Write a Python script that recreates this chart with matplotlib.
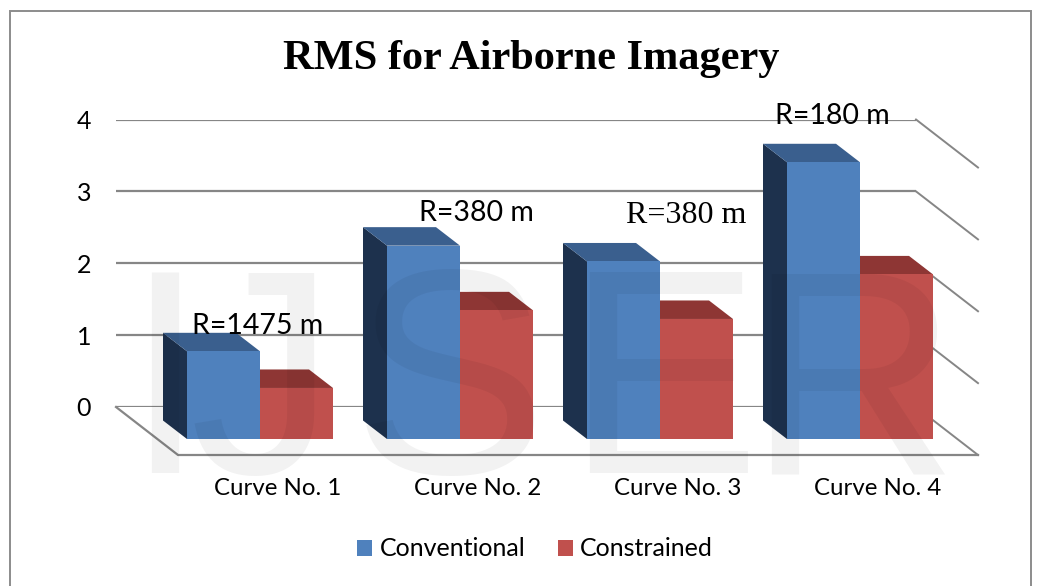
#!/usr/bin/env python
# coding: utf-8

import numpy as np
import matplotlib
matplotlib.use('Agg')
import matplotlib.pyplot as plt
from matplotlib.patches import Rectangle

# Data
curves = ['Curve No. 1', 'Curve No. 2', 'Curve No. 3', 'Curve No. 4']
conventional = [1.22, 2.69, 2.47, 3.85]
constrained = [0.71, 1.79, 1.67, 2.29]
y_ticks = [0, 1, 2, 3, 4]
radius_labels = ['R=1475 m', 'R=380 m', 'R=380 m', 'R=180 m']

W, H = 1044, 586
plt.rcParams['font.family'] = ['Lato', 'DejaVu Sans']

fig = plt.figure(figsize=(W / 100, H / 100), dpi=100)

# Axes box is the back wall of the fake 3D chart
left, right, top, bottom = 116, 916, 119.5, 407
ax = fig.add_axes([left / W, 1 - bottom / H, (right - left) / W, (bottom - top) / H])
ax.set_xlim(-0.72, 3.28)
ax.set_ylim(0, 4)
ax.patch.set_visible(False)
for s in ax.spines.values():
    s.set_visible(False)

px_x = 1 / 200  # data units per pixel
px_y = 4 / (bottom - top)

grid_col = '#868686'
floor_dx, floor_dy = 62 * px_x, -48 * px_y
bar_dx, bar_dy = 24 * px_x, 18.5 * px_y
bar_base = -32 * px_y
bar_w = 73 * px_x

# Chart frame
fig.add_artist(Rectangle((9.5 / W, -0.01), 1021 / W, 1 - 10.5 / H + 0.01, transform=fig.transFigure,
                         fill=False, edgecolor='#8c8c8c', linewidth=1.4))

# Walls and floor
xmin, xmax = ax.get_xlim()
ax.set_axisbelow(True)
ax.yaxis.grid(True, color=grid_col, linewidth=1.6)
for t in y_ticks:
    ax.plot([xmax, xmax + floor_dx], [t, t + floor_dy], color=grid_col, lw=1.4, clip_on=False, zorder=1)
ax.plot([xmin, xmin + floor_dx, xmax + floor_dx], [0, floor_dy, floor_dy],
        color=grid_col, lw=1.6, clip_on=False, zorder=1)


def draw_bars(xs, values, front, side, cap):
    for x, v in zip(xs, values):
        t = bar_base + v
        ax.fill([x, x - bar_dx, x - bar_dx, x], [bar_base, bar_base + bar_dy, t + bar_dy, t],
                color=side, lw=0, clip_on=False, zorder=3)
        ax.fill([x, x - bar_dx, x + bar_w - bar_dx, x + bar_w], [t, t + bar_dy, t + bar_dy, t],
                color=cap, lw=0, clip_on=False, zorder=3)
    return ax.bar(xs, values, width=bar_w, bottom=bar_base, align='edge', color=front,
                  clip_on=False, zorder=4)


pos = np.arange(len(curves))
# constrained first, its side is hidden by the blue bar
b2 = draw_bars(pos, constrained, '#C0504D', '#8E3634', '#8E3634')
b1 = draw_bars(pos - bar_w, conventional, '#4F81BD', '#1D314D', '#3A5F8E')

# Ticks
ax.set_yticks(y_ticks)
ax.set_xticks(pos + 0.09)
ax.set_xticklabels(curves)
ax.tick_params(axis='y', length=0, pad=18, labelsize=18, labelcolor='black')
ax.tick_params(axis='x', length=0, pad=51, labelsize=17.3, labelcolor='black')

# Title
fig.text(531 / W, 1 - 59 / H, 'RMS for Airborne Imagery', ha='center', va='center',
         family='Liberation Serif', weight='bold', fontsize=30.5)

# Labels over the bars, third one is a different font in the original
label_px = [(258, 326), (476, 213), (686, 216), (832, 116)]
for i, (txt, (lx, ly)) in enumerate(zip(radius_labels, label_px)):
    fig.text(lx / W, 1 - ly / H, txt, ha='center', va='center',
             fontsize=23 if i == 2 else 20.5,
             family='Liberation Serif' if i == 2 else 'Lato', zorder=6)

# Legend
leg = ax.legend([b1, b2], ['Conventional', 'Constrained'], ncol=2, frameon=False, fontsize=18,
                loc='center', bbox_to_anchor=(535 / W, 1 - 549 / H), bbox_transform=fig.transFigure,
                handlelength=0.6, handleheight=0.6, handletextpad=0.3, columnspacing=1.3)

# Watermark on top of everything
for ch, cx in zip('IJSER', [165, 262, 450, 662, 852]):
    fig.text(cx / W, 1 - 398 / H, ch, ha='center', va='center', family='Liberation Sans',
             fontsize=210, color='black', alpha=0.05, zorder=10)

fig.savefig('out.png', dpi=100)
